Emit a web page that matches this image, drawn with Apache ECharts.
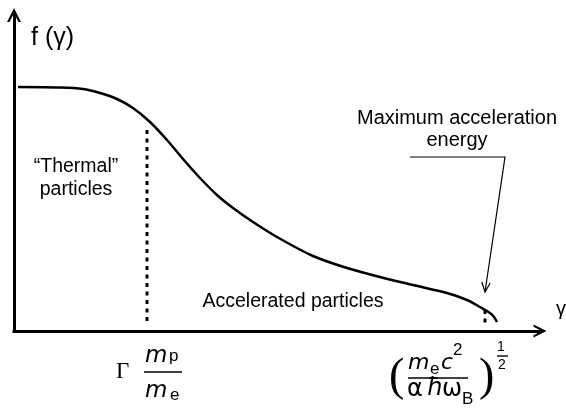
<!DOCTYPE html>
<html>
<head>
<meta charset="utf-8">
<script src="https://cdn.jsdelivr.net/npm/echarts@6/dist/echarts.min.js"></script>
<style>
html,body{margin:0;padding:0;background:#fff;}
#chart{width:566px;height:410px;}
</style>
</head>
<body>
<div id="chart"></div>
<script>
// Schematic distribution f(gamma): values in arbitrary units
const curveX = [4, 46, 69, 86, 103, 119, 136, 153, 169, 186, 203, 219, 239, 263, 299, 333, 366, 399, 433, 453, 466, 476, 480, 483];
const curveY = [244, 243.5, 242, 238, 232, 223, 209, 191, 172, 153, 136, 123, 109, 94, 75, 63, 54, 46, 38, 31, 24, 18, 14, 9];
const thermalCutX = [133, 133];
const thermalCutY = [201, 9];
const maxCutX = [471, 471];
const maxCutY = [21, 6];
const axisMaxX = 526;
const axisMaxY = 316;

const zip = (xs, ys) => xs.map((x, i) => [x, ys[i]]);
const chevron = 'path://M0,100 L50,0 L100,100 L82,100 L50,36 L18,100 Z';

const chart = echarts.init(document.getElementById('chart'), null, {renderer: 'canvas'});
const SANS = '"Liberation Sans", Arial, sans-serif';
const MATH = '"DejaVu Sans", sans-serif';
const SERIF = '"Liberation Serif", "Times New Roman", serif';

function txt(text, x, y, font, align, va) {
  return {type: 'text', z: 10, style: {text: text, x: x, y: y, font: font, fill: '#000', align: align || 'left', verticalAlign: va || 'middle'}};
}
function bar(x1, y, x2, w) {
  return {type: 'line', z: 10, shape: {x1: x1, y1: y, x2: x2, y2: y}, style: {stroke: '#000', lineWidth: w || 1.6}};
}

const option = {
  animation: false,
  backgroundColor: '#fff',
  grid: {left: 14, right: 26, top: 15, bottom: 79},
  xAxis: {
    type: 'value', min: 0, max: axisMaxX,
    splitLine: {show: false}, axisTick: {show: false}, axisLabel: {show: false},
    axisLine: {show: true, symbol: ['none', chevron], symbolSize: [13, 20],
      lineStyle: {color: '#000', width: 3, cap: 'square'}}
  },
  yAxis: {
    type: 'value', min: 0, max: axisMaxY,
    splitLine: {show: false}, axisTick: {show: false}, axisLabel: {show: false},
    axisLine: {show: true, symbol: ['none', chevron], symbolSize: [14, 16],
      lineStyle: {color: '#000', width: 3, cap: 'square'}}
  },
  series: [
    {type: 'line', data: zip(curveX, curveY), smooth: 0.3, showSymbol: false,
      lineStyle: {color: '#000', width: 2.5}},
    {type: 'line', data: zip(thermalCutX, thermalCutY), showSymbol: false,
      lineStyle: {color: '#000', width: 3, type: [4, 4.5]}},
    {type: 'line', data: zip(maxCutX, maxCutY), showSymbol: false,
      lineStyle: {color: '#000', width: 3, type: [4, 4.5]}}
  ],
  graphic: [
    txt('f (γ)', 31, 38, '25px ' + SANS),
    txt('γ', 561, 309, '20px ' + SANS, 'center'),
    txt('“Thermal”', 76, 167, '19.5px ' + SANS, 'center'),
    txt('particles', 76, 190, '19.5px ' + SANS, 'center'),
    txt('Accelerated particles', 293, 302, '19.5px ' + SANS, 'center'),
    txt('Maximum acceleration', 457, 118, '20px ' + SANS, 'center'),
    txt('energy', 457, 140, '20px ' + SANS, 'center'),
    {type: 'polyline', z: 10, shape: {points: [[410, 157], [505, 157], [485, 292]]}, style: {stroke: '#000', lineWidth: 1.2, fill: null}},
    {type: 'polyline', z: 10, shape: {points: [[481.8, 282], [485, 292], [490.2, 283]]}, style: {stroke: '#000', lineWidth: 1.2, fill: null}},
    // left formula: Gamma m_p / m_e
    txt('Γ', 116, 372, '23px ' + SERIF),
    txt('m', 145, 356, 'italic 23px ' + MATH),
    txt('p', 169, 356, '17px ' + SANS),
    bar(144, 372, 182),
    txt('m', 145, 391, 'italic 23px ' + MATH),
    txt('e', 170, 395, '17px ' + SANS),
    // right formula: (m_e c^2 / alpha hbar omega_B)^(1/2)
    txt('(', 389, 378, '46px ' + SERIF),
    txt('m', 408, 363, 'italic 22px ' + MATH),
    txt('e', 430, 369, '17px ' + SANS),
    txt('c', 441, 363, 'italic 22px ' + MATH),
    txt('2', 453, 350, '17px ' + SANS),
    bar(408, 378, 468),
    txt('α', 407, 390, '24px ' + MATH),
    txt('ħ', 427, 389, 'italic 24px ' + MATH),
    txt('ω', 442, 390, '24px ' + MATH),
    txt('B', 462, 399, '17px ' + SANS),
    txt(')', 479, 378, '46px ' + SERIF),
    txt('1', 501, 347, '14px ' + SANS, 'center'),
    bar(497, 356, 508, 1.4),
    txt('2', 502, 365, '14px ' + SANS, 'center')
  ]
};
chart.setOption(option);
</script>
</body>
</html>
